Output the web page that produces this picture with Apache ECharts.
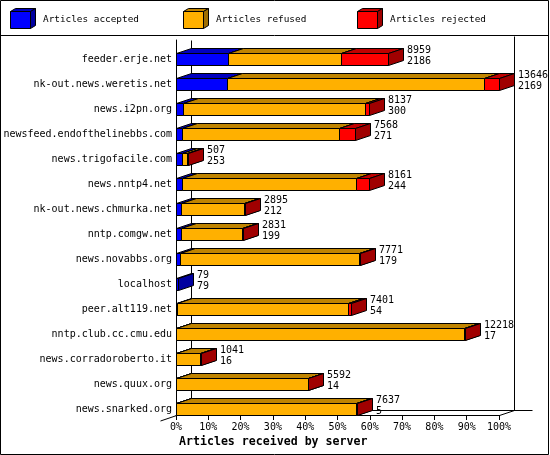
<!DOCTYPE html>
<html><head><meta charset="utf-8">
<script src="https://cdn.jsdelivr.net/npm/echarts@6/dist/echarts.min.js"></script>
<style>html,body{margin:0;padding:0;background:#fff}#c{width:550px;height:455px}</style>
</head><body><div id="c"></div>
<script>
var categories = ['feeder.erje.net','nk-out.news.weretis.net','news.i2pn.org','newsfeed.endofthelinebbs.com','news.trigofacile.com','news.nntp4.net','nk-out.news.chmurka.net','nntp.comgw.net','news.novabbs.org','localhost','peer.alt119.net','nntp.club.cc.cmu.edu','news.corradoroberto.it','news.quux.org','news.snarked.org'];
var accepted = [2186, 2169, 300, 271, 253, 244, 212, 199, 179, 79, 54, 17, 16, 14, 5];
var refused  = [4787, 10826, 7667, 6629, 229, 7372, 2663, 2607, 7557, 0, 7217, 12171, 1015, 5558, 7602];
var rejected = [1986, 651, 170, 668, 25, 545, 20, 25, 35, 0, 130, 30, 10, 20, 30];
var seriesNames = ['Articles accepted', 'Articles refused', 'Articles rejected'];
var axisTitle = 'Articles received by server';

var MONO = '"DejaVu Sans Mono", "Liberation Mono", monospace';
var palette = [
  {front:'#0000FF', top:'#0000C0', side:'#0000A0'},
  {front:'#FFB000', top:'#C08400', side:'#A06E00'},
  {front:'#FF0000', top:'#C00000', side:'#A00000'}
];
var DX = 15, DY = 5, FH = 12;

var totals = categories.map(function(_, i){ return accepted[i] + refused[i] + rejected[i]; });
var maxTotal = Math.max.apply(null, totals);
function pct(v){ return v / maxTotal * 100; }

var segs = [accepted, refused, rejected];
var segData = segs.map(function(arr, k){
  return categories.map(function(_, i){
    var s = 0; for (var j = 0; j < k; j++) s += segs[j][i];
    return [i, pct(s), pct(s + arr[i]), arr[i]];
  });
});

function px(v){ return Math.round(v) + 0.5; }

function segRender(k){
  var c = palette[k];
  return function(params, api){
    if (api.value(3) <= 0) return null;
    var ci = api.value(0);
    var p0 = api.coord([api.value(1), ci]);
    var p1 = api.coord([api.value(2), ci]);
    var band = api.size([0, 1])[1];
    var bottom = px(p0[1] + band / 2);
    var top = bottom - FH;
    var x0 = px(p0[0]), x1 = px(p1[0]);
    var st = {stroke:'#000', lineWidth:1};
    return {type:'group', children:[
      {type:'polygon', shape:{points:[[x0,top],[x0+DX,top-DY],[x1+DX,top-DY],[x1,top]]}, style:Object.assign({fill:c.top}, st)},
      {type:'polygon', shape:{points:[[x1,top],[x1+DX,top-DY],[x1+DX,bottom-DY],[x1,bottom]]}, style:Object.assign({fill:c.side}, st)},
      {type:'rect', shape:{x:x0, y:top, width:x1-x0, height:FH}, style:Object.assign({fill:c.front}, st)}
    ]};
  };
}

function frameRender(params, api){
  var cs = params.coordSys;
  var L = Math.round(cs.x) + 0.5, R = Math.round(cs.x + cs.width) + 0.5;
  var T = Math.round(cs.y) + 0.5, B = Math.round(cs.y + cs.height) + 0.5;
  var st = {stroke:'#000', lineWidth:1};
  function ln(a,b,c,d){ return {type:'line', shape:{x1:a,y1:b,x2:c,y2:d}, style:st}; }
  return {type:'group', children:[
    ln(L+DX, T, L+DX, B-DY),
    ln(R+DX, T-4, R+DX, B-DY),
    ln(L+DX, B-DY, R+DX+18, B-DY),
    ln(R, B, R+DX, B-DY),
    ln(L-16, B+5.5, L+DX, B-DY)
  ]};
}

function labelRender(params, api){
  var ci = api.value(0);
  var p = api.coord([api.value(1), ci]);
  var band = api.size([0, 1])[1];
  var bottom = Math.round(p[1] + band / 2);
  var top = bottom - FH - DY;
  return {type:'text', x: Math.round(p[0]) + DX + 4, y: top - 3,
    style:{text: api.value(2) + '\n' + api.value(3), fill:'#000', font:'10px ' + MONO, lineHeight:11, verticalAlign:'top', align:'left'}};
}

var labelData = categories.map(function(_, i){ return [i, pct(totals[i]), totals[i], accepted[i]]; });

var series = [{type:'custom', name:'frame', renderItem:frameRender, data:[[0,0]], z:1, silent:true, clip:false}];
segData.forEach(function(d, k){
  series.push({type:'custom', name:seriesNames[k], renderItem:segRender(k), data:d, z:2+k, silent:true, clip:false, encode:{x:[1,2], y:0}});
});
series.push({type:'custom', name:'labels', renderItem:labelRender, data:labelData, z:10, silent:true, clip:false, encode:{x:1, y:0}});

// legend graphic (cubes + names)
var legendX = [10, 183, 357];
var legendEls = [];
seriesNames.forEach(function(n, k){
  var c = palette[k], x = legendX[k] + 0.5, y = 11.5, w = 20, h = 17, dx = 5, dy = 3;
  var st = {stroke:'#000', lineWidth:1};
  legendEls.push({type:'polygon', shape:{points:[[x,y],[x+dx,y-dy],[x+w+dx,y-dy],[x+w,y]]}, style:Object.assign({fill:c.top}, st)});
  legendEls.push({type:'polygon', shape:{points:[[x+w,y],[x+w+dx,y-dy],[x+w+dx,y+h-dy],[x+w,y+h]]}, style:Object.assign({fill:c.side}, st)});
  legendEls.push({type:'rect', shape:{x:x, y:y, width:w, height:h}, style:Object.assign({fill:c.front}, st)});
  legendEls.push({type:'text', x: legendX[k] + 33, y: 20, style:{text:n, fill:'#000', font:'9.4px ' + MONO, verticalAlign:'middle'}});
});
legendEls.push({type:'line', shape:{x1:0, y1:35.5, x2:549, y2:35.5}, style:{stroke:'#000', lineWidth:1}});
legendEls.push({type:'rect', shape:{x:0.5, y:0.5, width:548, height:454}, style:{fill:null, stroke:'#000', lineWidth:1}});

var chart = echarts.init(document.getElementById('c'), null, {renderer:'canvas'});
chart.setOption({
  animation:false,
  backgroundColor:'#fff',
  title:{text:axisTitle, left:179, top:436, padding:0, textStyle:{fontFamily:MONO, fontWeight:'bold', fontSize:11.6, color:'#000'}},
  grid:{left:176, right:51, top:40, bottom:40, containLabel:false},
  xAxis:{type:'value', min:0, max:100, interval:10,
    axisLine:{show:true, lineStyle:{color:'#000', width:1}},
    axisTick:{show:true, length:5, lineStyle:{color:'#000'}},
    splitLine:{show:false},
    axisLabel:{formatter:'{value}%', color:'#000', fontFamily:MONO, fontSize:10, margin:7}
  },
  yAxis:{type:'category', data:categories, inverse:true,
    axisLine:{show:true, lineStyle:{color:'#000', width:1}},
    axisTick:{show:false},
    axisLabel:{color:'#000', fontFamily:MONO, fontSize:10, margin:4, verticalAlign:'top', lineHeight:14}
  },
  graphic:legendEls,
  series:series
});
</script>
</body></html>
